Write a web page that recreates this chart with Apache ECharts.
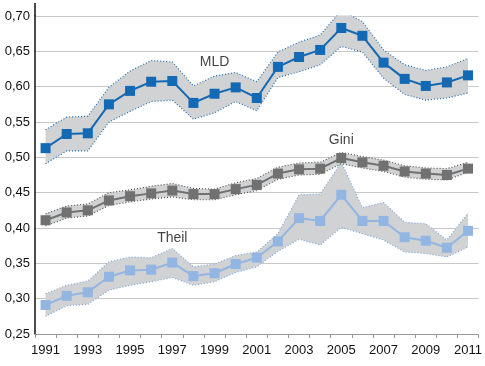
<!DOCTYPE html>
<html><head><meta charset="utf-8">
<script src="https://cdn.jsdelivr.net/npm/echarts@6/dist/echarts.min.js"></script>
<style>html,body{margin:0;padding:0;background:#fff}#c{width:485px;height:366px}</style>
</head><body><div id="c"></div>
<script>
const years = ['1991','1992','1993','1994','1995','1996','1997','1998','1999','2000','2001','2002','2003','2004','2005','2006','2007','2008','2009','2010','2011'];
const mld      = [0.513,0.533,0.534,0.575,0.594,0.607,0.608,0.577,0.590,0.599,0.584,0.628,0.642,0.652,0.683,0.672,0.634,0.611,0.601,0.606,0.616];
const mldHigh  = [0.539,0.557,0.558,0.599,0.622,0.637,0.635,0.601,0.615,0.620,0.607,0.649,0.663,0.673,0.708,0.692,0.652,0.631,0.623,0.628,0.640];
const mldLow   = [0.491,0.509,0.509,0.550,0.565,0.579,0.581,0.554,0.563,0.579,0.566,0.613,0.621,0.631,0.657,0.649,0.612,0.589,0.581,0.584,0.591];
const gini     = [0.411,0.422,0.425,0.439,0.445,0.449,0.453,0.448,0.448,0.455,0.461,0.477,0.483,0.484,0.499,0.493,0.488,0.480,0.477,0.475,0.484];
const giniHigh = [0.420,0.431,0.434,0.450,0.454,0.459,0.463,0.456,0.455,0.464,0.470,0.486,0.492,0.493,0.507,0.501,0.496,0.488,0.485,0.484,0.493];
const giniLow  = [0.403,0.414,0.417,0.432,0.437,0.441,0.444,0.440,0.440,0.447,0.453,0.469,0.475,0.476,0.491,0.485,0.480,0.472,0.469,0.468,0.479];
const theil     = [0.291,0.304,0.309,0.331,0.340,0.341,0.351,0.332,0.336,0.349,0.358,0.381,0.414,0.410,0.447,0.410,0.410,0.387,0.382,0.372,0.396];
const theilHigh = [0.307,0.319,0.325,0.352,0.359,0.358,0.371,0.345,0.349,0.361,0.366,0.392,0.447,0.448,0.493,0.429,0.436,0.408,0.406,0.383,0.421];
const theilLow  = [0.275,0.290,0.292,0.312,0.319,0.324,0.330,0.319,0.324,0.337,0.345,0.367,0.384,0.376,0.401,0.392,0.383,0.366,0.364,0.359,0.373];
const yTicks = {min:0.25, max:0.70, step:0.05};
const labels = [{name:'MLD', year:'1999', y:0.635},{name:'Gini', year:'2005', y:0.524},{name:'Theil', year:'1997', y:0.386}];

const bandFill = '#d1d2d4';
function band(key, low, high, color){
  const diff = high.map((v,i)=>+(v-low[i]).toFixed(4));
  return [
    {type:'line', stack:key, data:low, symbol:'none', silent:true, z:1,
     lineStyle:{color:color, width:1.2, type:[1,2]}},
    {type:'line', stack:key, data:diff, symbol:'none', silent:true, z:1,
     lineStyle:{color:color, width:1.2, type:[1,2]},
     areaStyle:{color:bandFill, opacity:1}}
  ];
}
function main(data, color){
  return {type:'line', data:data, symbol:'rect', symbolSize:10, z:3,
    lineStyle:{color:color, width:2}, itemStyle:{color:color}};
}
const series = [
  ...band('m', mldLow, mldHigh, '#1b6fb8'),
  ...band('g', giniLow, giniHigh, '#555555'),
  ...band('t', theilLow, theilHigh, '#7fa8dc'),
  main(mld, '#1369b3'),
  main(gini, '#717171'),
  main(theil, '#92b5e2'),
  {type:'scatter', data:labels.map(l=>[l.year,l.y,l.name]), symbolSize:0, z:5, silent:true,
   label:{show:true, position:'inside', formatter:p=>p.data[2], fontSize:14, color:'#111',
     fontFamily:'Liberation Sans, Arial, sans-serif'}}
];
const chart = echarts.init(document.getElementById('c'));
chart.setOption({
  animation:false,
  grid:{left:35, right:6, top:16, bottom:32, containLabel:false},
  graphic:[{type:'line', shape:{x1:35, y1:3, x2:35, y2:16}, style:{stroke:'#111', lineWidth:1.5}}],
  xAxis:{type:'category', data:years, boundaryGap:true,
    axisLine:{lineStyle:{color:'#999', width:1}},
    axisTick:{show:true, length:4, lineStyle:{color:'#999'}, interval:0},
    axisLabel:{interval:1, fontSize:13, color:'#111', margin:10, fontFamily:'Liberation Sans, Arial, sans-serif'},
    splitLine:{show:false}},
  yAxis:{type:'value', min:yTicks.min, max:yTicks.max, interval:yTicks.step,
    axisLine:{show:true, lineStyle:{color:'#111', width:1.5}},
    axisTick:{show:false},
    axisLabel:{fontSize:13, color:'#111', margin:5, fontFamily:'Liberation Sans, Arial, sans-serif',
      formatter:v=>v.toFixed(2).replace('.',',')},
    splitLine:{lineStyle:{color:'#c8c8c8', width:1}}},
  series:series
});
</script></body></html>
